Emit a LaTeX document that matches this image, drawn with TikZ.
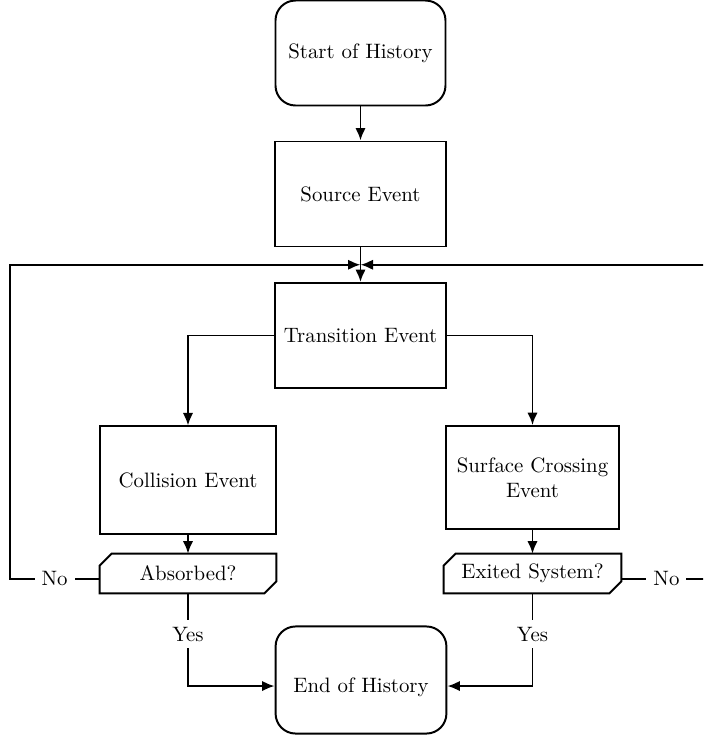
\documentclass[tikz,border=0pt]{standalone}
\usetikzlibrary{arrows.meta, calc}
\tikzset{
  eventbox/.style={draw, line width=0.95pt, rectangle, minimum width=82pt, minimum height=50.4pt, align=center},
  termbox/.style={eventbox, rounded corners=9.6pt},
  querybox/.style={rectangle, minimum width=84.5pt, minimum height=18.7pt},
  flow/.style={line width=0.95pt, -{Latex[length=6pt, width=5pt]}},
  answer/.style={fill=white}
}
\begin{document}
\begin{tikzpicture}[x=0.48pt, y=-0.48pt]
            % Frame
            \clip (0,0) rectangle (703,736);

            % Boxes
            \node[termbox, minimum width=81.6pt] (start) at (360.5,53) {Start of History};
            \node[eventbox] (source) at (360.5,194) {Source Event};
            \node[eventbox] (trans) at (360.5,335.5) {Transition Event};
            \node[eventbox, minimum width=84.5pt, minimum height=51.4pt] (coll) at (188,480) {Collision Event};
            \node[eventbox, minimum width=83pt, minimum height=49.4pt] (surf) at (532.5,477.5) {Surface Crossing\\Event};
            \node[querybox] (absorbed) at (188,573.5) {Absorbed?};
            \node[querybox, minimum width=85pt] (exited) at (532.5,573.5) {Exited System?};
            \node[termbox, minimum height=51.4pt, text height=14.5pt] (endh) at (361,680) {End of History};

            % Chamfered outlines of the two questions
            \foreach \q in {absorbed, exited}
              \draw[line width=0.95pt] ([xshift=5.8pt]\q.north west) -- (\q.north east)
                -- ([yshift=5.8pt]\q.south east) -- ([xshift=-5.8pt]\q.south east)
                -- (\q.south west) -- ([yshift=-5.8pt]\q.north west) -- cycle;

            % Merge point above the transition event
            \coordinate (merge) at ($(source.south)!0.5!(trans.north)$);

            % Main flow
            \draw[flow] (start) -- (source);
            \draw[flow] (source) -- (trans);
            \draw[flow] (trans.west) -| (coll.north);
            \draw[flow] (trans.east) -| (surf.north);
            \draw[flow] (coll) -- (absorbed);
            \draw[flow] (surf) -- (exited);

            % Loops back to the transition event
            \draw[flow] ([yshift=-2.6pt]absorbed.west) -- node[answer] {No} ++(-90,0) |- (merge);
            \draw[flow] ([yshift=-2.6pt]exited.east) -- node[answer] {No} ++(90,0) |- (merge);

            % End of history
            \draw[flow] (absorbed.south) |- node[answer, pos=0.22] {Yes} ([yshift=-2.9pt]endh.west);
            \draw[flow] (exited.south) |- node[answer, pos=0.22] {Yes} ([yshift=-2.9pt]endh.east);
        \end{tikzpicture}
\end{document}
